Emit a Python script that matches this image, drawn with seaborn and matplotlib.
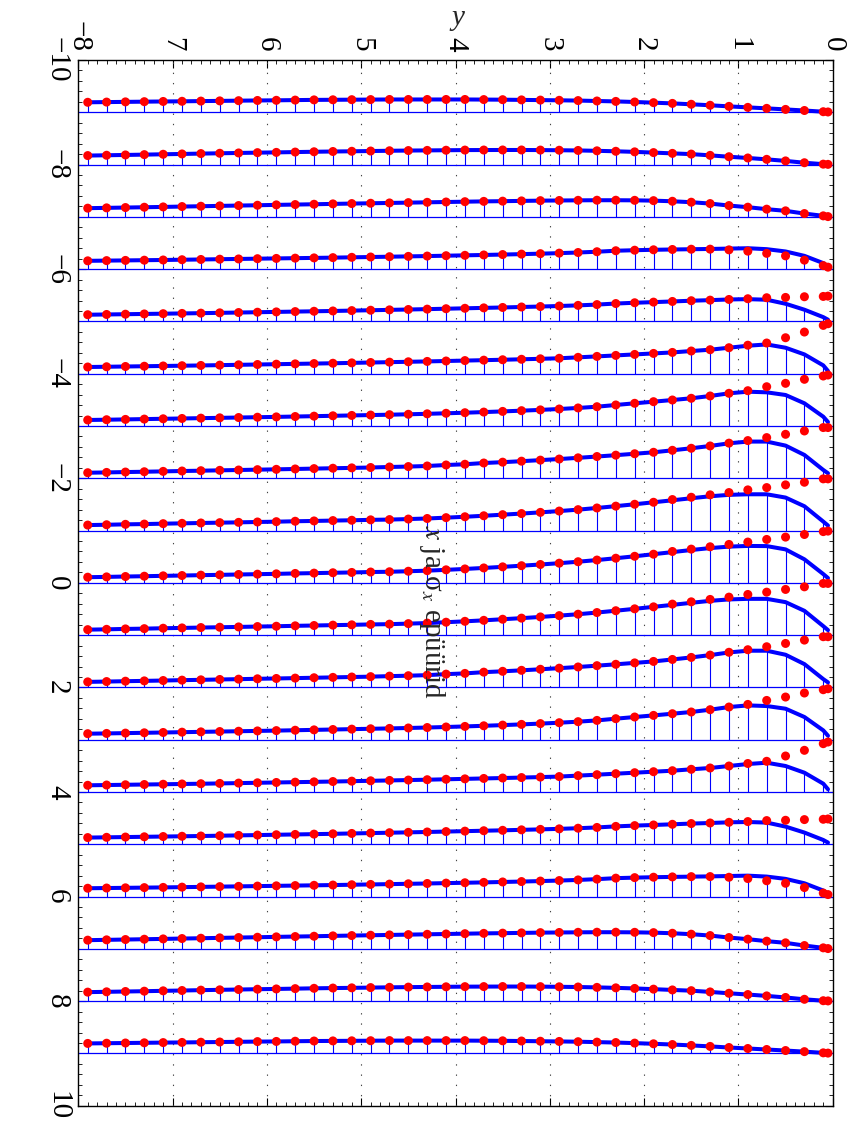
import numpy as np
import pandas as pd
import matplotlib
matplotlib.use("Agg")
import matplotlib.pyplot as plt
from matplotlib.ticker import MultipleLocator
import seaborn as sns

# ---------------- data ----------------
# depth coordinates of the nodes (y), and cross-section positions (x)
y_nodes = [-7.9, -7.7, -7.5, -7.3, -7.1, -6.9, -6.7, -6.5, -6.3, -6.1,
           -5.9, -5.7, -5.5, -5.3, -5.1, -4.9, -4.7, -4.5, -4.3, -4.1,
           -3.9, -3.7, -3.5, -3.3, -3.1, -2.9, -2.7, -2.5, -2.3, -2.1,
           -1.9, -1.7, -1.5, -1.3, -1.1, -0.9, -0.7, -0.5, -0.3, -0.1,
           -0.05]
x_rows = [-9, -8, -7, -6, -5, -4, -3, -2, -1, 0, 1, 2, 3, 4, 5, 6, 7, 8, 9]

# |sigma_x| (numerical solution, blue) for |x| = 0..9
blue_x0 = [.108, .114, .121, .127, .134, .140, .147, .153, .160, .166,
           .172, .180, .186, .193, .199, .207, .212, .222, .233, .249,
           .266, .285, .306, .328, .351, .376, .404, .436, .471, .508,
           .548, .588, .628, .665, .693, .706, .703, .640, .450, .168,
           .092]
blue_x1 = [.105, .111, .119, .124, .132, .138, .145, .151, .157, .164,
           .170, .178, .184, .191, .197, .205, .210, .220, .231, .247,
           .264, .283, .304, .325, .348, .373, .400, .432, .467, .503,
           .541, .579, .618, .656, .683, .694, .694, .631, .465, .172,
           .096]
blue_x2 = [.106, .112, .119, .125, .132, .139, .145, .152, .158, .165,
           .171, .178, .185, .192, .199, .206, .216, .224, .235, .254,
           .268, .292, .308, .327, .347, .368, .391, .416, .442, .469,
           .497, .535, .574, .618, .669, .702, .702, .625, .446, .159,
           .096]
blue_x3 = [.115, .120, .126, .132, .138, .144, .150, .156, .162, .168,
           .174, .181, .188, .195, .202, .209, .216, .224, .233, .243,
           .254, .266, .279, .293, .308, .325, .345, .369, .402, .434,
           .465, .497, .530, .574, .625, .656, .644, .593, .434, .178,
           .076]
blue_x4 = [.128, .133, .138, .143, .148, .153, .158, .164, .170, .176,
           .182, .188, .194, .200, .207, .214, .221, .228, .235, .243,
           .251, .259, .267, .276, .285, .295, .313, .331, .350, .369,
           .388, .407, .434, .459, .497, .535, .560, .497, .369, .159,
           .052]
blue_x5 = [.128, .133, .138, .143, .148, .153, .158, .164, .170, .176,
           .182, .188, .194, .200, .207, .214, .221, .228, .235, .243,
           .251, .259, .267, .276, .285, .295, .307, .322, .342, .357,
           .369, .382, .396, .407, .420, .426, .415, .338, .224, .082,
           .033]
blue_x6 = [.159, .163, .167, .171, .175, .180, .185, .190, .195, .200,
           .205, .210, .215, .220, .226, .232, .238, .244, .250, .257,
           .264, .271, .279, .287, .296, .306, .318, .333, .352, .362,
           .370, .376, .381, .386, .393, .400, .382, .338, .254, .115,
           .052]
blue_x7 = [.166, .172, .178, .184, .190, .197, .203, .210, .216, .222,
           .229, .235, .241, .248, .254, .260, .266, .272, .278, .284,
           .290, .296, .300, .305, .310, .313, .316, .318, .318, .316,
           .310, .298, .280, .254, .216, .185, .147, .115, .063, .019,
           .005]
blue_x8 = [.172, .178, .184, .190, .197, .203, .210, .216, .222, .228,
           .233, .239, .245, .250, .254, .259, .264, .268, .271, .274,
           .277, .278, .279, .279, .277, .274, .270, .263, .254, .243,
           .229, .214, .200, .176, .150, .126, .100, .070, .035, .008,
           .004]
blue_x9 = [.191, .195, .199, .203, .207, .210, .214, .218, .222, .226,
           .229, .233, .237, .239, .241, .243, .245, .245, .245, .245,
           .245, .243, .241, .237, .233, .229, .224, .216, .208, .197,
           .184, .170, .153, .134, .113, .094, .075, .055, .034, .011,
           .006]

# |sigma_x| (analytical solution, red dots) for |x| = 0..9
red_x0 = blue_x0[:31] + [.600, .645, .690, .735, .780, .830, .875, .925, .980, .990]
red_x1 = blue_x1[:31] + [.593, .637, .683, .727, .778, .822, .874, .924, .989, .989]
red_x2 = blue_x2[:34] + [.672, .721, .778, .841, .905, .970, .970]
red_x3 = blue_x3[:35] + [.675, .751, .816, .893, .956, .975]
red_x4 = blue_x4[:35] + [.545, .587, .688, .797, .924, .956]
red_x5 = blue_x5[:35] + [.434, .453, .459, .472, .478, .484]
red_x6 = blue_x6[:33] + [.382, .369, .344, .302, .254, .172, .067, .038]
red_x7 = blue_x7
red_x8 = blue_x8
red_x9 = blue_x9

blue_by_abs = [blue_x0, blue_x1, blue_x2, blue_x3, blue_x4,
               blue_x5, blue_x6, blue_x7, blue_x8, blue_x9]
red_by_abs = [red_x0, red_x1, red_x2, red_x3, red_x4,
              red_x5, red_x6, red_x7, red_x8, red_x9]

y_ticks = [-8, -7, -6, -5, -4, -3, -2, -1, 0]
y_ticklabels = ["\u22128", "7", "6", "5", "4", "3", "2", "1", "0"]
x_ticks = [-10, -8, -6, -4, -2, 0, 2, 4, 6, 8, 10]
x_ticklabels = ["\u221210", "\u22128", "\u22126", "\u22124", "\u22122",
                "0", "2", "4", "6", "8", "10"]

# ---------------- long-form table ----------------
recs = []
for xr in x_rows:
    b = blue_by_abs[abs(xr)]
    r = red_by_abs[abs(xr)]
    for yy, sb, sr in zip(y_nodes, b, r):
        recs.append({"row": xr, "y": yy,
                     "pos_blue": xr - sb, "pos_red": xr - sr})
df = pd.DataFrame(recs)

# ---------------- plot ----------------
sns.set_theme(style="white")
SERIF = ["Liberation Serif", "DejaVu Serif"]
plt.rcParams["font.family"] = SERIF
plt.rcParams["font.serif"] = SERIF
plt.rcParams["mathtext.fontset"] = "stix"

W, H = 852, 1128
fig = plt.figure(figsize=(W / 100, H / 100), dpi=100)
ax = fig.add_axes([78.3 / W, 1 - 1105.7 / H, (832.7 - 78.3) / W, (1105.7 - 60) / H])

# stems
ax.vlines(df["y"], df["row"], df["pos_blue"], color=(0, 0, 1), lw=0.8, zorder=2)
# baselines
for xr in x_rows:
    ax.axhline(xr, color=(0, 0, 1), lw=0.9, zorder=2)
# blue curves
sns.lineplot(data=df, x="y", y="pos_blue", units="row", estimator=None,
             sort=False, color=(0, 0, 1), lw=2.9, ax=ax, legend=False, zorder=3)
# red dots
sns.scatterplot(data=df, x="y", y="pos_red", color=(1, 0, 0), s=42,
                edgecolor="none", linewidth=0, ax=ax, legend=False, zorder=4)

ax.set_xlim(-8, 0)
ax.set_ylim(10, -10)
ax.set_xticks(y_ticks)
ax.set_xticklabels(y_ticklabels, rotation=-90, fontfamily=SERIF, fontsize=21)
ax.set_yticks(x_ticks)
ax.set_yticklabels(x_ticklabels, rotation=-90, va="center",
                   fontfamily=SERIF, fontsize=21)
ax.xaxis.set_minor_locator(MultipleLocator(0.1))
ax.yaxis.set_minor_locator(MultipleLocator(0.2))
ax.tick_params(axis="x", which="both", direction="in", top=True, bottom=True,
               labeltop=True, labelbottom=False, colors="black", pad=6)
ax.tick_params(axis="y", which="both", direction="in", left=True, right=True,
               labelleft=True, labelright=False, colors="black", pad=6)
ax.tick_params(which="major", length=6, width=0.8)
ax.tick_params(which="minor", length=3, width=0.6)
ax.set_xlabel("")
ax.set_ylabel("")

for xv in y_ticks[1:-1]:
    ax.axvline(xv, color="#444444", lw=0.8, ls=(0, (1.2, 8)), zorder=1)

for sp in ax.spines.values():
    sp.set_color("black")
    sp.set_linewidth(1.0)
    sp.set_visible(True)

fig.text(458 / W, 1 - 18 / H, "y", fontsize=21, style="italic",
         fontfamily=SERIF, ha="center", va="center")
fig.text(432 / W, 1 - 612 / H, r"$x$ ja $\mathregular{\sigma}_x$ epüürid",
         fontsize=21, rotation=-90, fontfamily=SERIF, ha="center", va="center")

fig.savefig("out.png", dpi=100, facecolor="white")
